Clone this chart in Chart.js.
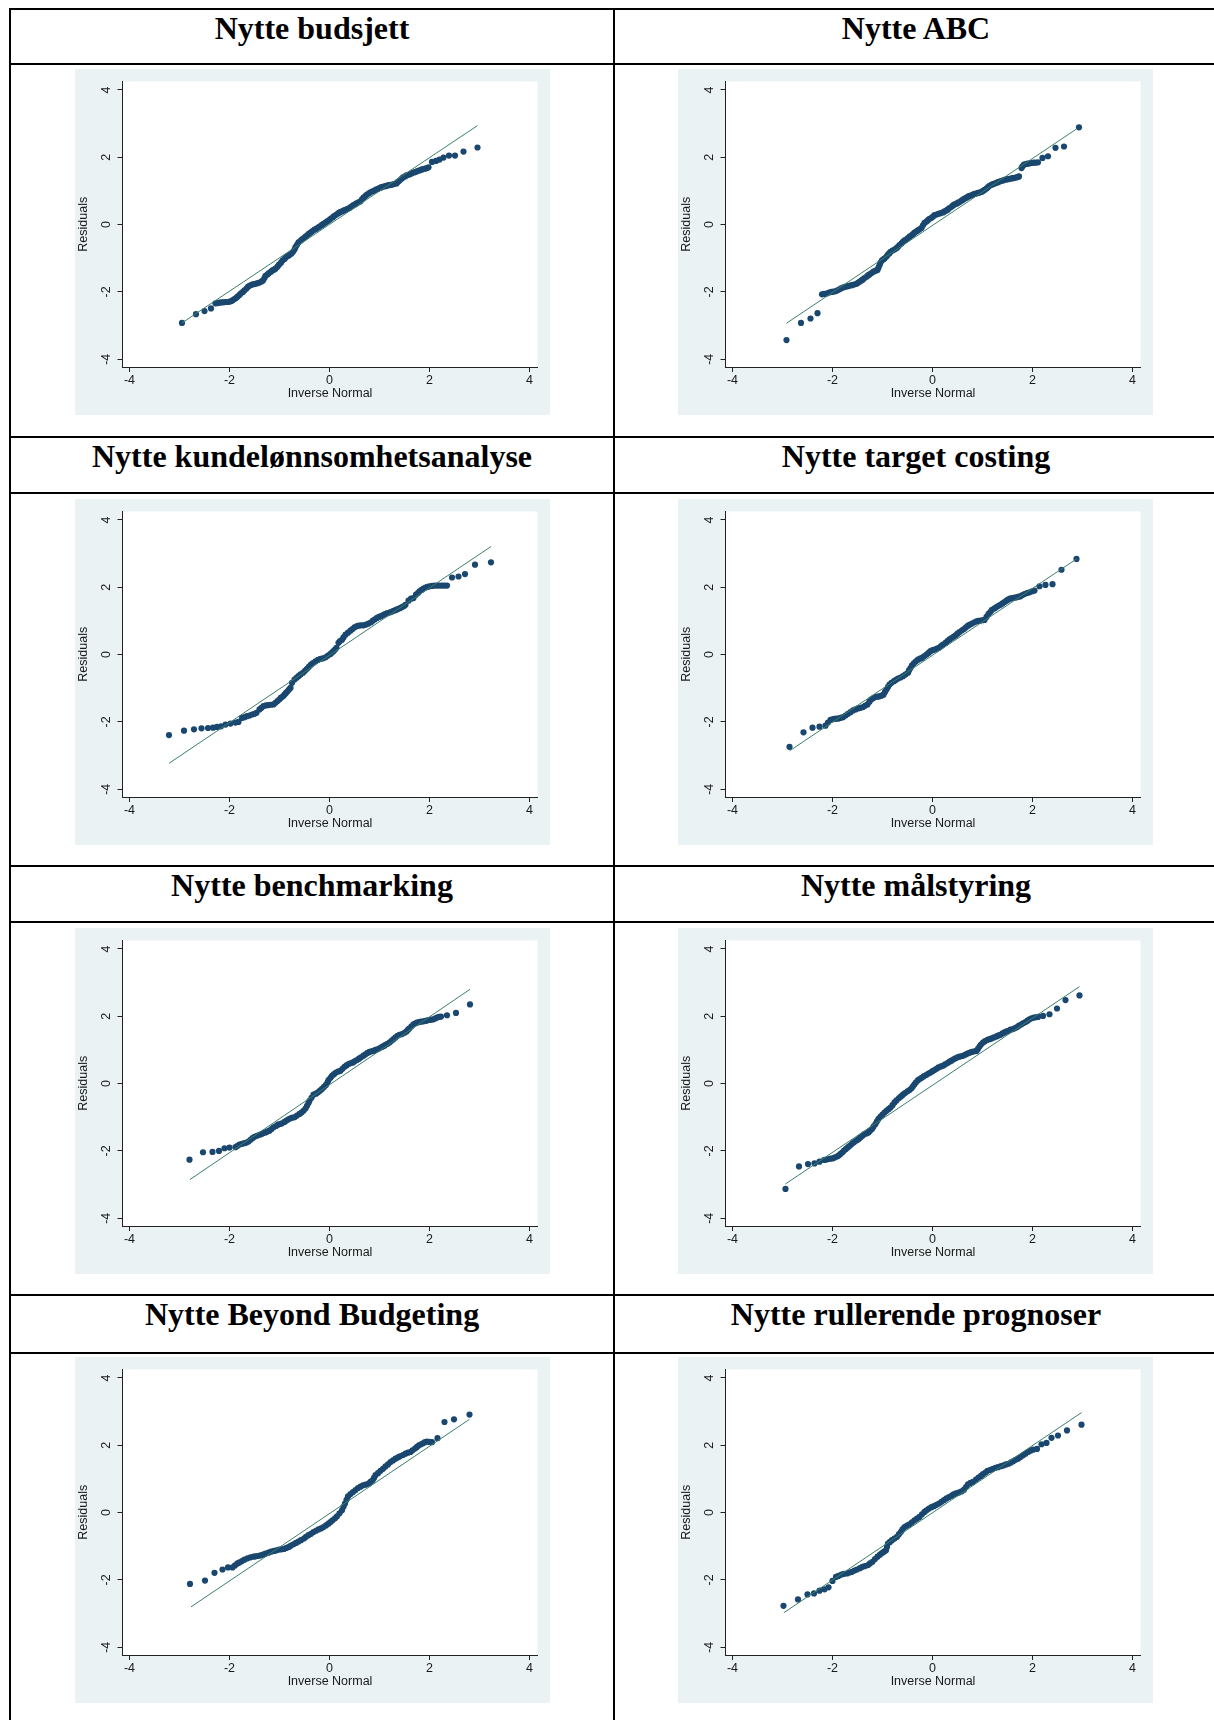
<!DOCTYPE html>
<html>
<head>
<meta charset="utf-8">
<script src="https://cdn.jsdelivr.net/npm/chart.js@4.4.1/dist/chart.umd.min.js"></script>
<style>
  body { margin: 0; width: 1214px; height: 1720px; overflow: hidden; background: #fff; position: relative; }
  .hl { position: absolute; left: 9px; right: 0; height: 2px; background: #000; }
  .vl { position: absolute; top: 8px; bottom: 0; width: 2px; background: #000; }
  .title { position: absolute; width: 602px; text-align: center; white-space: nowrap;
           font: bold 32px/32px "Liberation Serif", "Times New Roman", serif; color: #000; }
  .panel { position: absolute; width: 475px; height: 346px; }
</style>
</head>
<body>
<div class="vl" style="left:9px"></div>
<div class="vl" style="left:613px"></div>
<div class="hl" style="top:8px"></div>
<div class="hl" style="top:63px"></div>
<div class="hl" style="top:436px"></div>
<div class="hl" style="top:492px"></div>
<div class="hl" style="top:865px"></div>
<div class="hl" style="top:921px"></div>
<div class="hl" style="top:1294px"></div>
<div class="hl" style="top:1352px"></div>

<script>
// titles, one per panel (left to right, top to bottom)
const titles = [
  'Nytte budsjett', 'Nytte ABC',
  'Nytte kundelønnsomhetsanalyse', 'Nytte target costing',
  'Nytte benchmarking', 'Nytte målstyring',
  'Nytte Beyond Budgeting', 'Nytte rullerende prognoser'
];

const tickVals = [-4, -2, 0, 2, 4];
const tickLabels = ['-4', '-2', '0', '2', '4'];

// [inverse normal, residual]
const qBudsjett = [[-2.95,-2.92],[-2.67,-2.66],[-2.50,-2.57],[-2.37,-2.49],[-2.28,-2.34],[-2.24,-2.33],[-2.20,-2.32],[-2.16,-2.31],[-2.12,-2.31],[-2.08,-2.30],[-2.04,-2.30],[-2.00,-2.29],[-1.96,-2.27],[-1.93,-2.24],[-1.90,-2.21],[-1.87,-2.18],[-1.84,-2.14],[-1.80,-2.09],[-1.77,-2.04],[-1.73,-2.00],[-1.70,-1.95],[-1.66,-1.90],[-1.63,-1.85],[-1.60,-1.82],[-1.56,-1.79],[-1.52,-1.77],[-1.48,-1.76],[-1.44,-1.74],[-1.40,-1.72],[-1.36,-1.69],[-1.33,-1.66],[-1.30,-1.59],[-1.28,-1.52],[-1.24,-1.48],[-1.21,-1.44],[-1.17,-1.40],[-1.14,-1.36],[-1.11,-1.34],[-1.08,-1.31],[-1.04,-1.25],[-1.01,-1.19],[-0.97,-1.13],[-0.94,-1.07],[-0.90,-1.02],[-0.87,-0.97],[-0.83,-0.93],[-0.80,-0.90],[-0.76,-0.86],[-0.73,-0.81],[-0.70,-0.74],[-0.68,-0.67],[-0.65,-0.60],[-0.62,-0.53],[-0.58,-0.48],[-0.55,-0.44],[-0.51,-0.40],[-0.48,-0.36],[-0.44,-0.31],[-0.41,-0.27],[-0.37,-0.23],[-0.34,-0.19],[-0.30,-0.15],[-0.26,-0.12],[-0.22,-0.08],[-0.19,-0.05],[-0.15,-0.01],[-0.12,0.02],[-0.08,0.06],[-0.04,0.10],[0.00,0.14],[0.03,0.18],[0.07,0.22],[0.10,0.26],[0.14,0.30],[0.18,0.34],[0.21,0.37],[0.25,0.39],[0.29,0.42],[0.32,0.44],[0.36,0.47],[0.40,0.49],[0.43,0.53],[0.47,0.57],[0.51,0.60],[0.54,0.63],[0.58,0.66],[0.62,0.69],[0.65,0.75],[0.68,0.80],[0.72,0.85],[0.75,0.89],[0.79,0.93],[0.82,0.96],[0.86,0.99],[0.90,1.01],[0.93,1.04],[0.97,1.06],[1.01,1.09],[1.04,1.11],[1.08,1.13],[1.12,1.14],[1.15,1.16],[1.19,1.17],[1.23,1.18],[1.26,1.19],[1.30,1.21],[1.34,1.22],[1.37,1.27],[1.40,1.31],[1.44,1.36],[1.47,1.40],[1.51,1.43],[1.54,1.46],[1.58,1.48],[1.62,1.50],[1.65,1.53],[1.69,1.55],[1.73,1.57],[1.76,1.59],[1.80,1.61],[1.84,1.63],[1.87,1.65],[1.91,1.66],[1.95,1.68],[1.98,1.70],[2.05,1.86],[2.13,1.89],[2.20,1.93],[2.28,1.99],[2.39,2.05],[2.51,2.05],[2.68,2.17],[2.96,2.29]];
const qAbc = [[-2.92,-3.43],[-2.63,-2.92],[-2.44,-2.79],[-2.30,-2.63],[-2.21,-2.07],[-2.17,-2.06],[-2.12,-2.05],[-2.07,-2.02],[-2.02,-2.00],[-1.98,-1.99],[-1.94,-1.98],[-1.90,-1.95],[-1.86,-1.92],[-1.82,-1.89],[-1.77,-1.86],[-1.73,-1.84],[-1.69,-1.83],[-1.65,-1.81],[-1.61,-1.80],[-1.57,-1.78],[-1.52,-1.76],[-1.49,-1.73],[-1.46,-1.70],[-1.42,-1.66],[-1.39,-1.63],[-1.36,-1.59],[-1.32,-1.55],[-1.29,-1.51],[-1.26,-1.48],[-1.22,-1.44],[-1.18,-1.40],[-1.14,-1.37],[-1.10,-1.35],[-1.08,-1.28],[-1.06,-1.21],[-1.04,-1.13],[-1.01,-1.06],[-0.98,-1.03],[-0.96,-1.01],[-0.92,-0.95],[-0.89,-0.89],[-0.86,-0.85],[-0.84,-0.81],[-0.80,-0.77],[-0.76,-0.74],[-0.72,-0.70],[-0.69,-0.66],[-0.66,-0.61],[-0.62,-0.56],[-0.59,-0.51],[-0.56,-0.47],[-0.52,-0.44],[-0.49,-0.40],[-0.46,-0.36],[-0.42,-0.32],[-0.39,-0.28],[-0.36,-0.24],[-0.32,-0.20],[-0.29,-0.17],[-0.26,-0.14],[-0.22,-0.10],[-0.19,-0.02],[-0.16,0.05],[-0.12,0.09],[-0.09,0.13],[-0.06,0.17],[-0.02,0.20],[0.01,0.24],[0.04,0.28],[0.08,0.30],[0.12,0.32],[0.16,0.34],[0.21,0.36],[0.24,0.39],[0.28,0.42],[0.31,0.45],[0.34,0.49],[0.38,0.53],[0.41,0.57],[0.44,0.60],[0.48,0.62],[0.51,0.65],[0.54,0.67],[0.58,0.71],[0.61,0.74],[0.64,0.77],[0.68,0.80],[0.71,0.83],[0.74,0.85],[0.78,0.87],[0.81,0.89],[0.84,0.91],[0.88,0.92],[0.91,0.94],[0.94,0.95],[0.98,0.97],[1.01,1.00],[1.04,1.03],[1.08,1.07],[1.11,1.11],[1.14,1.15],[1.18,1.18],[1.21,1.20],[1.24,1.22],[1.28,1.24],[1.31,1.26],[1.34,1.28],[1.38,1.30],[1.41,1.31],[1.44,1.33],[1.48,1.34],[1.51,1.35],[1.54,1.36],[1.58,1.37],[1.61,1.38],[1.64,1.39],[1.68,1.40],[1.71,1.42],[1.73,1.43],[1.78,1.68],[1.80,1.73],[1.83,1.78],[1.87,1.80],[1.90,1.81],[1.94,1.82],[1.98,1.83],[2.02,1.84],[2.06,1.84],[2.11,1.85],[2.20,1.98],[2.31,2.03],[2.46,2.28],[2.63,2.32],[2.93,2.89]];
const qKunde = [[-3.21,-2.39],[-2.91,-2.26],[-2.71,-2.22],[-2.56,-2.19],[-2.43,-2.18],[-2.33,-2.17],[-2.25,-2.15],[-2.17,-2.13],[-2.08,-2.08],[-1.98,-2.05],[-1.88,-2.02],[-1.82,-2.00],[-1.75,-1.88],[-1.70,-1.86],[-1.65,-1.83],[-1.60,-1.81],[-1.55,-1.78],[-1.50,-1.76],[-1.46,-1.73],[-1.40,-1.63],[-1.36,-1.58],[-1.32,-1.53],[-1.27,-1.51],[-1.22,-1.50],[-1.17,-1.49],[-1.12,-1.48],[-1.08,-1.43],[-1.04,-1.38],[-1.00,-1.33],[-0.97,-1.28],[-0.93,-1.24],[-0.90,-1.19],[-0.87,-1.14],[-0.84,-1.09],[-0.81,-1.04],[-0.78,-0.99],[-0.75,-0.84],[-0.70,-0.74],[-0.66,-0.69],[-0.62,-0.64],[-0.58,-0.59],[-0.53,-0.54],[-0.49,-0.48],[-0.45,-0.42],[-0.41,-0.36],[-0.37,-0.30],[-0.33,-0.25],[-0.28,-0.20],[-0.23,-0.16],[-0.18,-0.13],[-0.13,-0.11],[-0.08,-0.08],[-0.03,-0.03],[0.02,0.02],[0.05,0.06],[0.08,0.10],[0.11,0.15],[0.14,0.20],[0.18,0.35],[0.21,0.40],[0.25,0.44],[0.28,0.51],[0.32,0.59],[0.37,0.65],[0.42,0.71],[0.46,0.76],[0.50,0.81],[0.54,0.84],[0.58,0.86],[0.63,0.87],[0.68,0.87],[0.73,0.89],[0.78,0.92],[0.83,0.96],[0.87,1.01],[0.91,1.05],[0.95,1.09],[0.99,1.12],[1.03,1.14],[1.08,1.18],[1.12,1.21],[1.16,1.23],[1.20,1.25],[1.24,1.27],[1.28,1.30],[1.32,1.32],[1.36,1.35],[1.41,1.38],[1.45,1.41],[1.49,1.44],[1.52,1.48],[1.58,1.60],[1.63,1.66],[1.68,1.68],[1.73,1.78],[1.77,1.83],[1.80,1.88],[1.84,1.92],[1.88,1.96],[1.92,1.99],[1.96,2.01],[2.00,2.03],[2.05,2.04],[2.10,2.05],[2.15,2.05],[2.20,2.05],[2.25,2.05],[2.30,2.05],[2.35,2.05],[2.45,2.29],[2.58,2.32],[2.71,2.39],[2.91,2.67],[3.23,2.74]];
const qTarget = [[-2.86,-2.74],[-2.58,-2.31],[-2.40,-2.17],[-2.26,-2.14],[-2.14,-2.11],[-2.09,-2.02],[-2.04,-1.94],[-2.00,-1.92],[-1.96,-1.91],[-1.92,-1.90],[-1.88,-1.90],[-1.84,-1.88],[-1.79,-1.86],[-1.74,-1.81],[-1.69,-1.76],[-1.64,-1.71],[-1.59,-1.66],[-1.54,-1.63],[-1.49,-1.60],[-1.44,-1.58],[-1.39,-1.56],[-1.35,-1.52],[-1.30,-1.48],[-1.26,-1.40],[-1.22,-1.33],[-1.18,-1.29],[-1.14,-1.26],[-1.10,-1.25],[-1.06,-1.24],[-1.02,-1.22],[-0.98,-1.19],[-0.95,-1.11],[-0.92,-1.04],[-0.89,-0.96],[-0.86,-0.89],[-0.82,-0.84],[-0.77,-0.79],[-0.73,-0.75],[-0.69,-0.71],[-0.64,-0.68],[-0.59,-0.64],[-0.54,-0.59],[-0.49,-0.54],[-0.47,-0.47],[-0.44,-0.40],[-0.41,-0.32],[-0.37,-0.25],[-0.33,-0.20],[-0.29,-0.15],[-0.25,-0.12],[-0.21,-0.10],[-0.17,-0.05],[-0.12,0.00],[-0.08,0.05],[-0.04,0.10],[0.00,0.13],[0.04,0.15],[0.09,0.18],[0.13,0.20],[0.17,0.25],[0.21,0.30],[0.26,0.35],[0.30,0.40],[0.34,0.45],[0.38,0.49],[0.42,0.53],[0.46,0.57],[0.50,0.62],[0.54,0.67],[0.59,0.72],[0.63,0.76],[0.67,0.81],[0.71,0.86],[0.75,0.89],[0.79,0.92],[0.84,0.96],[0.88,0.99],[0.92,1.00],[0.96,1.01],[1.00,1.02],[1.04,1.03],[1.08,1.12],[1.12,1.21],[1.16,1.27],[1.19,1.33],[1.24,1.37],[1.28,1.41],[1.32,1.45],[1.36,1.48],[1.40,1.52],[1.44,1.56],[1.48,1.60],[1.51,1.63],[1.55,1.66],[1.59,1.68],[1.64,1.69],[1.68,1.70],[1.72,1.72],[1.76,1.73],[1.80,1.77],[1.84,1.80],[1.89,1.83],[1.94,1.85],[1.99,1.88],[2.04,1.90],[2.14,2.03],[2.26,2.07],[2.40,2.09],[2.58,2.52],[2.88,2.84]];
const qBench = [[-2.80,-2.26],[-2.53,-2.04],[-2.34,-2.03],[-2.21,-2.00],[-2.10,-1.92],[-2.00,-1.90],[-1.88,-1.89],[-1.84,-1.85],[-1.80,-1.81],[-1.75,-1.79],[-1.70,-1.77],[-1.66,-1.75],[-1.62,-1.72],[-1.58,-1.67],[-1.54,-1.62],[-1.50,-1.58],[-1.45,-1.55],[-1.40,-1.52],[-1.36,-1.50],[-1.32,-1.47],[-1.28,-1.45],[-1.24,-1.42],[-1.20,-1.40],[-1.16,-1.35],[-1.12,-1.30],[-1.07,-1.26],[-1.03,-1.22],[-0.99,-1.20],[-0.95,-1.18],[-0.90,-1.14],[-0.86,-1.10],[-0.82,-1.06],[-0.78,-1.03],[-0.74,-1.01],[-0.70,-1.00],[-0.65,-0.95],[-0.60,-0.90],[-0.56,-0.86],[-0.52,-0.81],[-0.48,-0.74],[-0.45,-0.66],[-0.42,-0.58],[-0.40,-0.51],[-0.36,-0.42],[-0.32,-0.33],[-0.27,-0.30],[-0.23,-0.26],[-0.19,-0.21],[-0.15,-0.16],[-0.11,-0.10],[-0.07,-0.04],[-0.04,0.03],[-0.02,0.10],[0.02,0.17],[0.05,0.23],[0.09,0.28],[0.13,0.33],[0.18,0.36],[0.22,0.38],[0.26,0.44],[0.30,0.50],[0.34,0.54],[0.38,0.58],[0.43,0.61],[0.47,0.63],[0.51,0.67],[0.55,0.70],[0.59,0.74],[0.63,0.78],[0.68,0.83],[0.72,0.87],[0.76,0.91],[0.80,0.94],[0.84,0.96],[0.88,0.97],[0.92,1.00],[0.96,1.02],[1.00,1.05],[1.05,1.09],[1.09,1.12],[1.12,1.15],[1.16,1.18],[1.20,1.22],[1.24,1.27],[1.28,1.32],[1.32,1.37],[1.36,1.42],[1.40,1.45],[1.45,1.47],[1.50,1.51],[1.54,1.55],[1.57,1.60],[1.60,1.64],[1.64,1.70],[1.68,1.76],[1.72,1.79],[1.75,1.81],[1.79,1.83],[1.83,1.84],[1.88,1.85],[1.92,1.86],[1.96,1.88],[2.00,1.89],[2.04,1.90],[2.08,1.91],[2.12,1.94],[2.15,1.96],[2.19,1.98],[2.23,1.99],[2.35,2.03],[2.53,2.10],[2.81,2.35]];
const qMaal = [[-2.94,-3.13],[-2.67,-2.46],[-2.49,-2.39],[-2.36,-2.37],[-2.26,-2.32],[-2.17,-2.27],[-2.13,-2.26],[-2.08,-2.24],[-2.04,-2.23],[-1.99,-2.22],[-1.95,-2.19],[-1.90,-2.16],[-1.87,-2.13],[-1.84,-2.09],[-1.80,-2.04],[-1.77,-1.99],[-1.73,-1.94],[-1.69,-1.89],[-1.65,-1.84],[-1.61,-1.79],[-1.57,-1.74],[-1.52,-1.69],[-1.48,-1.65],[-1.44,-1.60],[-1.40,-1.55],[-1.36,-1.50],[-1.32,-1.48],[-1.28,-1.45],[-1.25,-1.40],[-1.21,-1.35],[-1.18,-1.28],[-1.14,-1.20],[-1.11,-1.12],[-1.08,-1.05],[-1.04,-0.98],[-1.00,-0.92],[-0.96,-0.86],[-0.92,-0.81],[-0.88,-0.76],[-0.84,-0.71],[-0.80,-0.64],[-0.76,-0.56],[-0.72,-0.50],[-0.67,-0.43],[-0.63,-0.38],[-0.59,-0.33],[-0.55,-0.28],[-0.50,-0.23],[-0.46,-0.19],[-0.42,-0.14],[-0.39,-0.08],[-0.36,-0.02],[-0.33,0.04],[-0.29,0.10],[-0.25,0.14],[-0.21,0.18],[-0.17,0.22],[-0.12,0.26],[-0.08,0.30],[-0.04,0.33],[0.00,0.37],[0.04,0.40],[0.08,0.44],[0.12,0.48],[0.17,0.51],[0.21,0.53],[0.25,0.57],[0.30,0.61],[0.34,0.65],[0.38,0.68],[0.42,0.72],[0.46,0.75],[0.50,0.78],[0.54,0.80],[0.59,0.82],[0.63,0.84],[0.67,0.87],[0.71,0.90],[0.75,0.92],[0.79,0.94],[0.84,0.96],[0.88,0.97],[0.91,1.03],[0.94,1.10],[0.97,1.16],[1.01,1.22],[1.05,1.26],[1.10,1.30],[1.14,1.32],[1.18,1.34],[1.23,1.37],[1.28,1.40],[1.32,1.43],[1.36,1.45],[1.40,1.49],[1.44,1.52],[1.48,1.55],[1.52,1.57],[1.56,1.60],[1.61,1.62],[1.65,1.65],[1.69,1.68],[1.73,1.72],[1.78,1.76],[1.82,1.80],[1.86,1.83],[1.90,1.87],[1.94,1.91],[1.98,1.94],[2.03,1.96],[2.07,1.97],[2.11,1.98],[2.21,2.01],[2.34,2.06],[2.49,2.23],[2.66,2.48],[2.94,2.62]];
const qBeyond = [[-2.79,-2.12],[-2.49,-2.02],[-2.30,-1.79],[-2.14,-1.69],[-2.03,-1.63],[-1.94,-1.63],[-1.89,-1.57],[-1.84,-1.51],[-1.80,-1.48],[-1.75,-1.44],[-1.70,-1.40],[-1.64,-1.36],[-1.58,-1.33],[-1.52,-1.31],[-1.48,-1.30],[-1.43,-1.29],[-1.38,-1.27],[-1.33,-1.25],[-1.28,-1.22],[-1.22,-1.19],[-1.17,-1.16],[-1.11,-1.14],[-1.06,-1.12],[-1.01,-1.10],[-0.96,-1.09],[-0.91,-1.08],[-0.86,-1.05],[-0.81,-1.02],[-0.77,-0.98],[-0.72,-0.94],[-0.67,-0.90],[-0.62,-0.86],[-0.57,-0.82],[-0.51,-0.77],[-0.47,-0.72],[-0.42,-0.67],[-0.37,-0.63],[-0.32,-0.58],[-0.27,-0.54],[-0.22,-0.50],[-0.17,-0.47],[-0.12,-0.43],[-0.07,-0.38],[-0.02,-0.33],[0.02,-0.28],[0.06,-0.23],[0.11,-0.17],[0.15,-0.11],[0.20,-0.02],[0.25,0.07],[0.28,0.17],[0.31,0.27],[0.34,0.38],[0.37,0.48],[0.42,0.55],[0.47,0.61],[0.52,0.67],[0.57,0.73],[0.62,0.77],[0.67,0.81],[0.72,0.83],[0.78,0.86],[0.82,0.91],[0.86,0.96],[0.89,1.03],[0.92,1.11],[0.97,1.17],[1.02,1.24],[1.07,1.30],[1.12,1.37],[1.17,1.43],[1.22,1.50],[1.27,1.55],[1.32,1.60],[1.37,1.64],[1.41,1.67],[1.47,1.71],[1.52,1.75],[1.57,1.78],[1.62,1.80],[1.66,1.85],[1.71,1.90],[1.75,1.95],[1.79,2.00],[1.83,2.03],[1.87,2.06],[1.91,2.09],[1.95,2.11],[2.00,2.10],[2.05,2.09],[2.16,2.21],[2.30,2.69],[2.49,2.77],[2.80,2.91]];
const qRull = [[-2.98,-2.77],[-2.69,-2.58],[-2.50,-2.43],[-2.37,-2.40],[-2.26,-2.32],[-2.16,-2.28],[-2.08,-2.22],[-2.00,-2.03],[-1.93,-1.91],[-1.88,-1.88],[-1.82,-1.84],[-1.77,-1.82],[-1.71,-1.81],[-1.66,-1.78],[-1.61,-1.76],[-1.56,-1.72],[-1.51,-1.69],[-1.45,-1.65],[-1.40,-1.61],[-1.35,-1.59],[-1.29,-1.56],[-1.25,-1.51],[-1.20,-1.46],[-1.15,-1.38],[-1.10,-1.31],[-1.05,-1.25],[-1.01,-1.20],[-0.97,-1.16],[-0.93,-1.12],[-0.91,-1.02],[-0.89,-0.92],[-0.85,-0.87],[-0.81,-0.82],[-0.76,-0.77],[-0.71,-0.72],[-0.67,-0.64],[-0.63,-0.57],[-0.60,-0.50],[-0.56,-0.43],[-0.51,-0.39],[-0.46,-0.35],[-0.41,-0.29],[-0.36,-0.23],[-0.31,-0.18],[-0.26,-0.13],[-0.21,-0.05],[-0.16,0.02],[-0.12,0.07],[-0.07,0.12],[-0.02,0.16],[0.03,0.19],[0.08,0.23],[0.13,0.27],[0.18,0.32],[0.23,0.37],[0.28,0.42],[0.33,0.46],[0.38,0.50],[0.42,0.54],[0.47,0.57],[0.52,0.59],[0.58,0.63],[0.63,0.68],[0.67,0.76],[0.71,0.84],[0.76,0.88],[0.81,0.91],[0.87,0.98],[0.92,1.04],[0.97,1.09],[1.01,1.14],[1.06,1.19],[1.10,1.24],[1.16,1.27],[1.21,1.30],[1.26,1.33],[1.31,1.35],[1.37,1.38],[1.42,1.40],[1.47,1.43],[1.52,1.45],[1.57,1.49],[1.62,1.53],[1.66,1.57],[1.71,1.60],[1.76,1.65],[1.81,1.70],[1.86,1.75],[1.91,1.80],[1.96,1.84],[2.01,1.87],[2.09,1.89],[2.18,2.03],[2.28,2.07],[2.38,2.22],[2.51,2.29],[2.69,2.44],[2.98,2.61]];

// normal reference line ends
const refBudsjett = [[-2.95,-2.92],[2.96,2.94]];
const refAbc = [[-2.92,-2.93],[2.88,2.84]];
const refKunde = [[-3.21,-3.23],[3.23,3.21]];
const refTarget = [[-2.86,-2.86],[2.88,2.84]];
const refBench = [[-2.79,-2.85],[2.81,2.80]];
const refMaal = [[-2.94,-2.98],[2.94,2.88]];
const refBeyond = [[-2.77,-2.80],[2.80,2.77]];
const refRull = [[-2.97,-2.97],[2.98,2.97]];

const series = [qBudsjett, qAbc, qKunde, qTarget, qBench, qMaal, qBeyond, qRull];
const refs = [refBudsjett, refAbc, refKunde, refTarget, refBench, refMaal, refBeyond, refRull];

// layout of the table
const rowTops = [8, 436, 865, 1294];
const panelTops = [69, 499, 928, 1357];
const colTitleLeft = [11, 615];
const colPanelLeft = [75, 678];

const axisCol = '#222';
const textCol = '#1a1a1a';
const tickFont = { family: 'Liberation Sans, Arial, sans-serif', size: 12.5 };

const panelBg = {
  id: 'panelBg',
  beforeDraw(chart) {
    const { ctx, chartArea: a, width, height } = chart;
    ctx.save();
    ctx.fillStyle = '#eaf2f3';
    ctx.fillRect(0, 0, width, height);
    ctx.fillStyle = '#ffffff';
    ctx.fillRect(a.left, a.top, a.right - a.left, a.bottom - a.top);
    ctx.restore();
  }
};

const toXY = arr => arr.map(([x, y]) => ({ x, y }));
const fixTicks = s => { s.ticks = tickVals.map(v => ({ value: v })); };
const tickText = (v) => tickLabels[tickVals.indexOf(v)];

titles.forEach((t, i) => {
  const col = i % 2, row = Math.floor(i / 2);
  const h = document.createElement('div');
  h.className = 'title';
  h.textContent = t;
  h.style.left = colTitleLeft[col] + 'px';
  h.style.top = (rowTops[row] + 4) + 'px';
  document.body.appendChild(h);

  const c = document.createElement('canvas');
  c.className = 'panel';
  c.width = 475; c.height = 346;
  c.style.left = colPanelLeft[col] + 'px';
  c.style.top = panelTops[row] + 'px';
  document.body.appendChild(c);

  new Chart(c, {
    type: 'scatter',
    data: {
      datasets: [{
        data: toXY(refs[i]),
        showLine: true,
        borderColor: '#3b7f6c',
        borderWidth: 1,
        pointRadius: 0,
        order: 0
      }, {
        data: toXY(series[i]),
        pointRadius: 3.1,
        pointBackgroundColor: '#1a476f',
        pointBorderWidth: 0,
        order: 1
      }]
    },
    options: {
      responsive: false,
      devicePixelRatio: 1,
      animation: false,
      events: [],
      layout: { padding: { top: 12, right: 12.5, bottom: 0, left: 0 } },
      plugins: { legend: { display: false }, tooltip: { enabled: false } },
      scales: {
        x: {
          type: 'linear', min: -4.14, max: 4.16,
          afterBuildTicks: fixTicks,
          afterFit: s => { s.height = 48; },
          grid: { drawOnChartArea: false, drawTicks: true, tickLength: 5, color: axisCol },
          border: { display: true, color: axisCol, width: 1 },
          ticks: { padding: 1, font: tickFont, color: textCol, minRotation: 0, maxRotation: 0, autoSkip: false, callback: tickText },
          title: { display: true, text: 'Inverse Normal', font: tickFont, color: textCol, padding: { top: 0, bottom: 14 } }
        },
        y: {
          type: 'linear', min: -4.23, max: 4.25,
          afterBuildTicks: fixTicks,
          afterFit: s => { s.width = 47.5; },
          grid: { drawOnChartArea: false, drawTicks: true, tickLength: 5, color: axisCol },
          border: { display: true, color: axisCol, width: 1 },
          ticks: { padding: 5, font: tickFont, color: textCol, minRotation: 90, maxRotation: 90, crossAlign: 'center', autoSkip: false, callback: tickText },
          title: { display: true, text: 'Residuals', font: tickFont, color: textCol, padding: { top: 1, bottom: 0 } }
        }
      }
    },
    plugins: [panelBg]
  });
});
</script>
</body>
</html>
